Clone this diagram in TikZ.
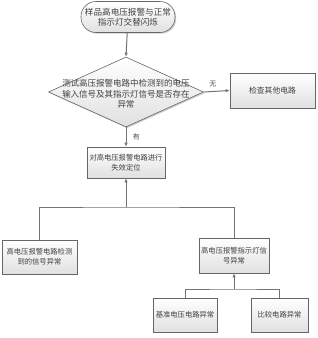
\documentclass[tikz,border=0pt]{standalone}
\usepackage{fontspec}
\newfontfamily\cjk{Noto Sans CJK SC}
\usetikzlibrary{arrows.meta,shapes.geometric,shadows}
\begin{document}
\begin{tikzpicture}[x=1pt,y=-1pt,
  box/.style={draw=black!60,line width=0.6pt,top color=white,bottom color=black!12,
    drop shadow={shadow xshift=1.2pt,shadow yshift=-1.2pt,fill=black!40},
    inner sep=1pt,align=center,font=\cjk\fontsize{7.3}{10}\selectfont,text=black!75},
  conn/.style={draw=black!55,line width=1pt},
  arr/.style={conn,-{Latex[length=4pt,width=3.5pt]}},
  lbl/.style={font=\cjk\fontsize{7}{8}\selectfont,text=black!70}]
\useasboundingbox (0,0) rectangle (318,338);
\node[box,rounded corners=15pt,minimum width=94pt,minimum height=31pt,
  font=\cjk\fontsize{8.6}{10.5}\selectfont] (start) at (128,17) {样品高电压报警与正常\\指示灯交替闪烁};
\node[box,diamond,minimum width=155pt,minimum height=70pt,inner sep=0pt] (d) at (126,92) {};
\node[align=center,font=\cjk\fontsize{8.5}{10.5}\selectfont,text=black!75,inner sep=0pt] (dt) at (126,94)
  {测试高压报警电路中检测到的电压\\输入信号及其指示灯信号是否存在\\异常};
\node[box,minimum width=85pt,minimum height=35pt,font=\cjk\fontsize{7.8}{10}\selectfont] (other) at (272.5,90.5) {检查其他电路};
\node[box,minimum width=78pt,minimum height=31pt] (loc) at (126,162.5) {对高电压报警电路进行\\失效定位};
\node[box,minimum width=75pt,minimum height=34pt] (left) at (39.5,257) {高电压报警电路检测\\到的信号异常};
\node[box,minimum width=70pt,minimum height=35pt] (ind) at (234,255.5) {高电压报警指示灯信\\号异常};
\node[box,minimum width=64pt,minimum height=34pt] (b1) at (185,315) {基准电压电路异常};
\node[box,minimum width=57pt,minimum height=34pt] (b2) at (279.5,315) {比较电路异常};
\coordinate (j1) at (126,207);
\coordinate (j2) at (234,289);
\draw[arr] (start) -- (d.north);
\draw[arr] (d.east) -- node[lbl,above=1pt,pos=0.35] {无} (other.west);
\draw[arr] (d.south) -- node[lbl,right=3pt,pos=0.5] {有} (loc.north);
\draw[conn] (left.north) |- (j1) -| (ind.north);
\draw[arr] (j1) -- (loc.south);
\draw[conn] (b1.north) |- (j2) -| (b2.north);
\draw[arr] (j2) -- (ind.south);
\end{tikzpicture}
\end{document}
